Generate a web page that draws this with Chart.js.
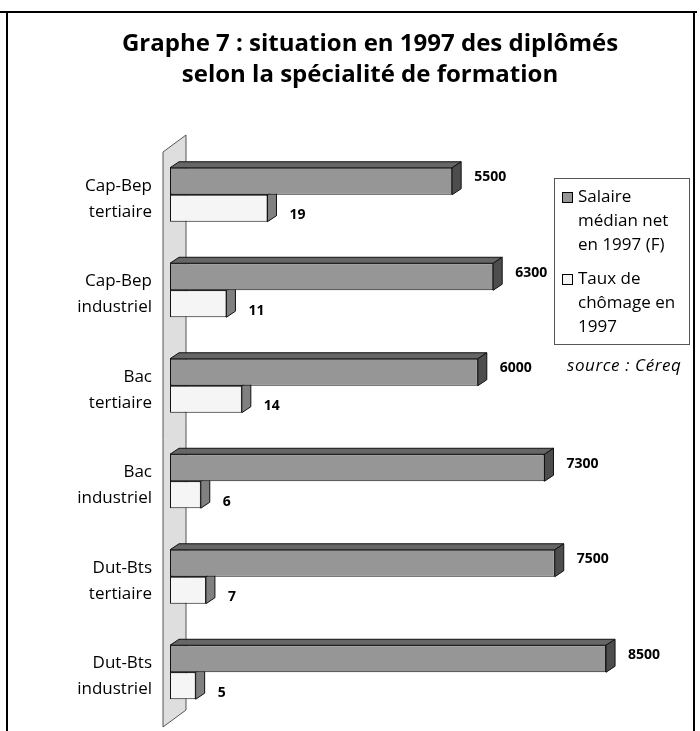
<!DOCTYPE html>
<html>
<head>
<meta charset="utf-8">
<script src="https://cdn.jsdelivr.net/npm/chart.js@4"></script>
<style>
  html, body { margin: 0; padding: 0; background: #fff; }
  #wrap { position: absolute; left: 0; top: 0; width: 700px; height: 731px; }
  .rule { position: absolute; background: #000; }
  #legend { position: absolute; left: 554px; top: 178px; width: 134px; height: 165px;
    border: 1px solid #555; font: 17px "Open Sans", sans-serif; line-height: 24px; color: #000; }
  #legend .it { position: relative; padding-left: 23px; margin-top: 5px; }
  #legend .it + .it { margin-top: 10px; }
  #legend .sw { position: absolute; left: 7px; top: 8px; width: 11px; height: 11px; border: 1px solid #000; box-sizing: border-box; }
  #source { position: absolute; left: 567px; top: 353px; font: italic 17px "Open Sans", sans-serif; letter-spacing: 0.6px; color: #000; }
</style>
</head>
<body>
<div id="wrap"><canvas id="c" width="700" height="731"></canvas></div>
<div class="rule" style="left:0;top:11px;width:697px;height:2px"></div>
<div class="rule" style="left:6px;top:11px;width:2px;height:720px"></div>
<div class="rule" style="left:693px;top:11px;width:2px;height:720px"></div>
<div id="legend"></div>
<div id="source">source : Céreq</div>
<script>
// Graphe 7 — situation en 1997 des diplômés (source Céreq)
const FONT = '"Open Sans", sans-serif';
const specialites = [['Cap-Bep', 'tertiaire'], ['Cap-Bep', 'industriel'], ['Bac', 'tertiaire'],
                     ['Bac', 'industriel'], ['Dut-Bts', 'tertiaire'], ['Dut-Bts', 'industriel']];
const salaire = [5500, 6300, 6000, 7300, 7500, 8500];
const chomage = [19, 11, 14, 6, 7, 5];
const serieNoms = [['Salaire', 'médian net', 'en 1997 (F)'], ['Taux de', 'chômage en', '1997']];

// couleurs : face avant, dessus, côté
const FACES = [
  { front: '#969696', top: '#666666', side: '#4d4d4d' },
  { front: '#f5f5f5', top: '#999999', side: '#808080' },
];
const DX = 9, DY = -6;

function poly(ctx, pts, fill) {
  ctx.beginPath();
  ctx.moveTo(pts[0][0], pts[0][1]);
  pts.slice(1).forEach(p => ctx.lineTo(p[0], p[1]));
  ctx.closePath();
  ctx.fillStyle = fill; ctx.fill();
  ctx.strokeStyle = '#111'; ctx.lineWidth = 1; ctx.stroke();
}

const relief = {
  id: 'relief',
  beforeDatasetsDraw(chart) {
    const { ctx, chartArea: a } = chart;
    ctx.save();
    // mur de fond
    const wl = a.left - 7, wr = a.left + 16;
    ctx.beginPath();
    ctx.moveTo(wl, a.top + 5); ctx.lineTo(wr, a.top - 12);
    ctx.lineTo(wr, a.bottom - 10); ctx.lineTo(wl, a.bottom + 7); ctx.closePath();
    ctx.fillStyle = '#dedede'; ctx.fill();
    ctx.strokeStyle = '#555'; ctx.lineWidth = 1; ctx.stroke();
    // dessus et côtés (taux d'abord, salaire ensuite)
    for (let d = chart.data.datasets.length - 1; d >= 0; d--) {
      chart.getDatasetMeta(d).data.forEach(bar => {
        const h = bar.height / 2, x0 = bar.base, x1 = bar.x, t = bar.y - h, b = bar.y + h;
        poly(ctx, [[x0, t], [x0 + DX, t + DY], [x1 + DX, t + DY], [x1, t]], FACES[d].top);
        poly(ctx, [[x1, t], [x1 + DX, t + DY], [x1 + DX, b + DY], [x1, b]], FACES[d].side);
      });
    }
    ctx.restore();
  },
  afterDatasetsDraw(chart) {
    const { ctx } = chart;
    ctx.save();
    ctx.font = 'bold 14px ' + FONT;
    ctx.fillStyle = '#000';
    ctx.textBaseline = 'middle';
    chart.data.datasets.forEach((ds, d) => {
      chart.getDatasetMeta(d).data.forEach((bar, i) => {
        const dy = d === 0 ? -4 : 7;
        ctx.fillText(String(ds.data[i]), bar.x + 22, bar.y + dy);
      });
    });
    ctx.restore();
  }
};

const chart = new Chart(document.getElementById('c'), {
  type: 'bar',
  data: {
    labels: specialites,
    datasets: [
      { label: serieNoms[0].join(' '), data: salaire, xAxisID: 'x', backgroundColor: FACES[0].front },
      { label: serieNoms[1].join(' '), data: chomage, xAxisID: 'x2', backgroundColor: FACES[1].front },
    ],
  },
  options: {
    responsive: false, animation: false,
    indexAxis: 'y',
    layout: { padding: { left: 57, right: 17, top: 0, bottom: 11 } },
    datasets: { bar: { categoryPercentage: 0.565, barPercentage: 1, borderWidth: 1, borderColor: '#111', borderSkipped: false } },
    plugins: {
      legend: { display: false },
      tooltip: { enabled: false },
      title: {
        display: true,
        text: ['Graphe 7 : situation en 1997 des diplômés', 'selon la spécialité de formation'],
        color: '#000',
        font: { family: FONT, size: 24, weight: 'bold', lineHeight: 31 / 24 },
        padding: { top: 29, bottom: 56 },
      },
    },
    scales: {
      x: { display: false, min: 0, max: 10000 },
      x2: { display: false, min: 0, max: 100 },
      y: {
        grid: { display: false }, border: { display: false },
        ticks: { color: '#000', font: { family: FONT, size: 17, lineHeight: 26 / 17 }, padding: 10, labelOffset: 4 },
        afterFit: s => { s.width = 113; s.paddingTop = 0; s.paddingBottom = 0; },
      },
    },
  },
  plugins: [relief],
});

// légende
document.getElementById('legend').innerHTML = chart.data.datasets.map((ds, d) =>
  `<div class="it"><span class="sw" style="background:${FACES[d].front}"></span>${serieNoms[d].join('<br>')}</div>`).join('');
</script>
</body>
</html>
